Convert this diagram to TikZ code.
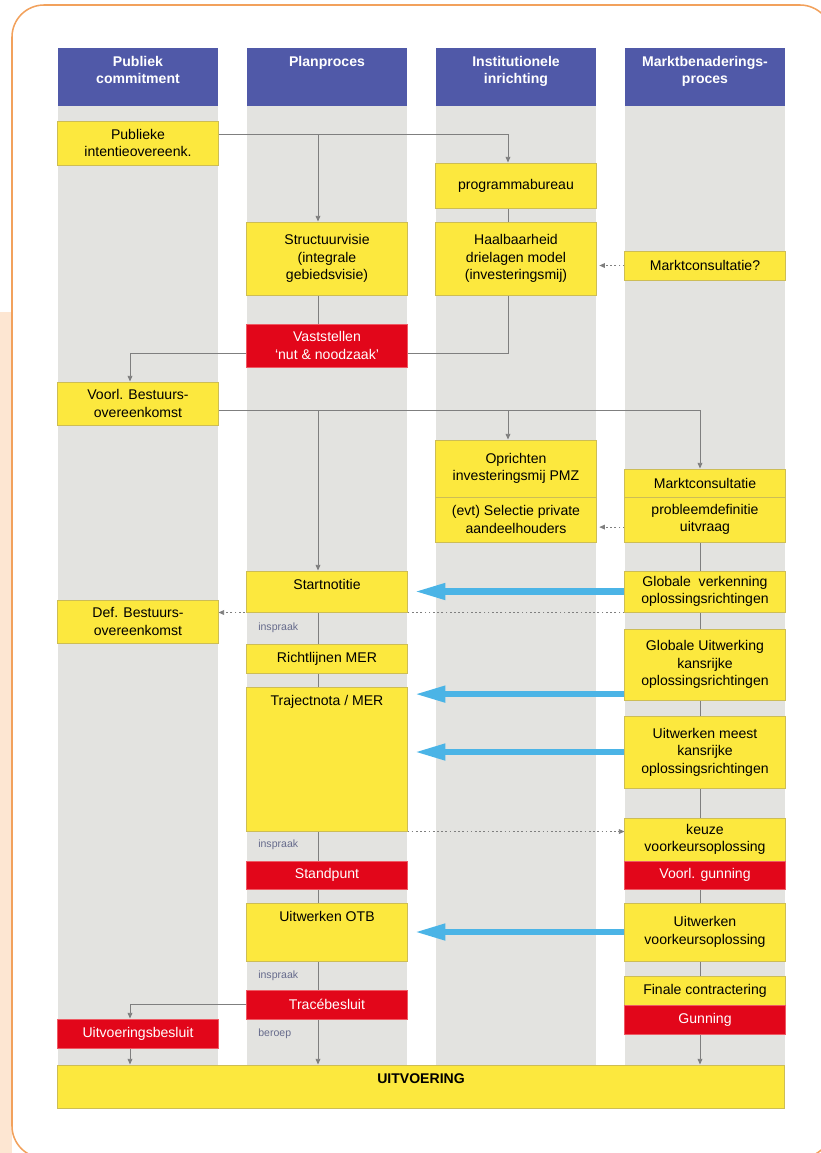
\documentclass[tikz,border=0pt]{standalone}
\usepackage{fontspec}
\setmainfont{Liberation Sans}
\usetikzlibrary{arrows.meta, backgrounds}
\definecolor{headblue}{HTML}{5059A8}
\definecolor{lanegray}{HTML}{E3E3E0}
\definecolor{boxyellow}{HTML}{FCE83E}
\definecolor{boxedge}{HTML}{CDBD55}
\definecolor{boxred}{HTML}{E2061A}
\definecolor{rededge}{HTML}{EE5A64}
\definecolor{feedblue}{HTML}{4BB4E6}
\definecolor{linegray}{HTML}{7F7F7F}
\definecolor{notegray}{HTML}{666B8C}
\definecolor{frameorange}{HTML}{F2A15C}
\definecolor{peach}{HTML}{FDE6D2}

\begin{document}
\begin{tikzpicture}[
  x=0.025cm, y=-0.025cm,
  txt/.style={font=\fontsize{10}{12.5}\selectfont, align=center},
  head/.style={fill=headblue, minimum width=4cm, minimum height=1.45cm, inner sep=0pt},
  headlbl/.style={anchor=north, yshift=-2.5pt, text=white, align=center,
                  font=\bfseries\fontsize{10}{12.5}\selectfont},
  lane/.style={fill=lanegray, minimum width=4cm, minimum height=23.975cm, inner sep=0pt},
  ybox/.style={txt, fill=boxyellow, draw=boxedge, line width=0.7pt,
               minimum width=4cm, inner sep=1pt},
  rbox/.style={ybox, fill=boxred, draw=rededge, text=white},
  toplbl/.style={txt, anchor=north, yshift=-3pt},
  note/.style={anchor=west, text=notegray, font=\fontsize{7.5}{9}\selectfont, inner sep=0pt},
  link/.style={draw=linegray, line width=0.6pt},
  arr/.style={link, -{Triangle[length=4pt, width=3.4pt]}},
  dotarr/.style={arr, dash pattern=on 1.2pt off 1.8pt},
  feed/.style={draw=feedblue, line width=4.3pt, -{Triangle[length=22pt, width=11pt]}, shorten >=5pt}
]
  \useasboundingbox (0,0) rectangle (821,1153);

  % frame and lanes
  \begin{scope}[on background layer]
    \fill[peach] (0,312) rectangle (12,1153);
    \draw[frameorange, line width=1.1pt, rounded corners=0.8cm] (12,5) rectangle (832,1158);
    \foreach \cx/\nm in {138/pc, 327/pp, 516/ii, 705/mb}
      \node[lane] (lane-\nm) at (\cx,585.5) {};
  \end{scope}

  % lane axes
  \coordinate (ax1) at (130,0);
  \coordinate (ax2) at (318,0);
  \coordinate (ax3) at (508,0);
  \coordinate (ax4) at (700,0);

  % headers
  \node[head, label={[headlbl]north:Publiek\\commitment}] (h1) at (138,77) {};
  \node[head, label={[headlbl]north:Planproces}] (h2) at (327,77) {};
  \node[head, label={[headlbl]north:Institutionele\\inrichting}] (h3) at (516,77) {};
  \node[head, label={[headlbl]north:Marktbenaderings-\\proces}] (h4) at (705,77) {};

  % boxes
  \node[ybox, minimum height=1.1cm] (pub) at (138,143) {Publieke\\intentieovereenk.};
  \node[ybox, minimum height=1.125cm] (prog) at (516,185.5) {programmabureau};
  \node[ybox, minimum height=1.825cm] (struct) at (327,258.5) {Structuurvisie\\(integrale\\gebiedsvisie)};
  \node[ybox, minimum height=1.825cm] (haal) at (516,258.5) {Haalbaarheid\\drielagen model\\(investeringsmij)};
  \node[ybox, minimum height=0.725cm] (mcq) at (705,265.5) {Marktconsultatie?};
  \node[rbox, minimum height=1.075cm] (vast) at (327,345.5) {Vaststellen\\`nut \& noodzaak'};
  \node[ybox, minimum height=1.075cm] (voorl) at (138,403.5) {Voorl. Bestuurs-\\overeenkomst};
  \node[ybox, minimum height=1.425cm] (opr) at (516,468.5) {Oprichten\\investeringsmij PMZ};
  \node[ybox, minimum height=1.125cm] (sel) at (516,519.5) {(evt) Selectie private\\aandeelhouders};
  \node[ybox, minimum height=0.7cm] (mc) at (705,483) {Marktconsultatie};
  \node[ybox, minimum height=1.125cm] (prob) at (705,519.5) {probleemdefinitie\\uitvraag};
  \node[ybox, minimum height=1.025cm, label={[toplbl]north:Startnotitie}] (start) at (327,591.5) {};
  \node[ybox, minimum height=1.025cm] (gv) at (705,591.5) {Globale\ \ verkenning\\oplossingsrichtingen};
  \node[ybox, minimum height=1.075cm] (def) at (138,621.5) {Def. Bestuurs-\\overeenkomst};
  \node[ybox, minimum height=0.725cm] (richt) at (327,658.5) {Richtlijnen MER};
  \node[ybox, minimum height=1.775cm] (gu) at (705,664.5) {Globale Uitwerking\\kansrijke\\oplossingsrichtingen};
  \node[ybox, minimum height=3.6cm, label={[toplbl]north:Trajectnota / MER}] (traj) at (327,759) {};
  \node[ybox, minimum height=1.8cm] (um) at (705,752) {Uitwerken meest\\kansrijke\\oplossingsrichtingen};
  \node[ybox, minimum height=1.075cm] (keuze) at (705,839.5) {keuze\\voorkeursoplossing};
  \node[rbox, minimum height=0.7cm] (stand) at (327,875) {Standpunt};
  \node[rbox, minimum height=0.7cm] (vgun) at (705,875) {Voorl. gunning};
  \node[ybox, minimum height=1.45cm, label={[toplbl]north:Uitwerken OTB}] (otb) at (327,932) {};
  \node[ybox, minimum height=1.45cm] (uvk) at (705,932) {Uitwerken\\voorkeursoplossing};
  \node[ybox, minimum height=0.725cm] (fin) at (705,990.5) {Finale contractering};
  \node[rbox, minimum height=0.725cm] (gun) at (705,1019.5) {Gunning};
  \node[rbox, minimum height=0.725cm] (trace) at (327,1004.5) {Tracébesluit};
  \node[rbox, minimum height=0.725cm] (uitvb) at (138,1033.5) {Uitvoeringsbesluit};
  \node[ybox, minimum width=18.15cm, minimum height=1.075cm,
        label={[toplbl, font=\bfseries\fontsize{10}{12.5}\selectfont]north:UITVOERING}] (uitv) at (421,1086.5) {};

  % small notes
  \node[note] (insp1) at (258,628) {inspraak};
  \node[note] (insp2) at (258,845) {inspraak};
  \node[note] (insp3) at (258,976) {inspraak};
  \node[note] (ber) at (258,1034) {beroep};

  % connectors
  \coordinate (pubout) at ([yshift=0.225cm]pub.east);
  \coordinate (voorlout) at ([yshift=-0.175cm]voorl.east);
  \coordinate (selin) at ([yshift=-0.19cm]sel.east);
  \coordinate (guout) at ([yshift=-0.74cm]gu.west);
  \begin{scope}[on background layer]
    \draw[arr] (pubout) -| (prog.north -| ax3);
    \draw[arr] (pubout -| ax2) -- (struct.north -| ax2);
    \draw[link] (prog.south -| ax3) -- (haal.north -| ax3);
    \draw[dotarr, shorten >=2pt] (mcq.west) -- (mcq.west -| haal.east);
    \draw[link] (struct.south -| ax2) -- (vast.north -| ax2);
    \draw[arr] (haal.south -| ax3) -- ++(0,58) -| (voorl.north -| ax1);
    \draw[arr] (voorlout) -| (mc.north -| ax4);
    \draw[arr] (voorlout -| ax3) -- (opr.north -| ax3);
    \draw[arr] (voorlout -| ax2) -- (start.north -| ax2);
    \draw[dotarr, shorten >=2pt] (selin -| prob.west) -- (selin);
    \draw[arr] (start.south -| ax2) -- (uitv.north -| ax2);
    \draw[arr] (prob.south -| ax4) -- (uitv.north -| ax4);
    \draw[arr] (trace.west) -| (uitvb.north -| ax1);
    \draw[arr] (uitvb.south -| ax1) -- (uitv.north -| ax1);
    \draw[dotarr] (gv.south west) -- (gv.south west -| def.east);
    \draw[dotarr] (traj.south east) -- (traj.south east -| keuze.west);
    \draw[feed] (gv.west) -- (gv.west -| start.east);
    \draw[feed] (guout) -- (guout -| traj.east);
    \draw[feed] (um.west) -- (um.west -| traj.east);
    \draw[feed] (uvk.west) -- (uvk.west -| otb.east);
  \end{scope}
\end{tikzpicture}
\end{document}
